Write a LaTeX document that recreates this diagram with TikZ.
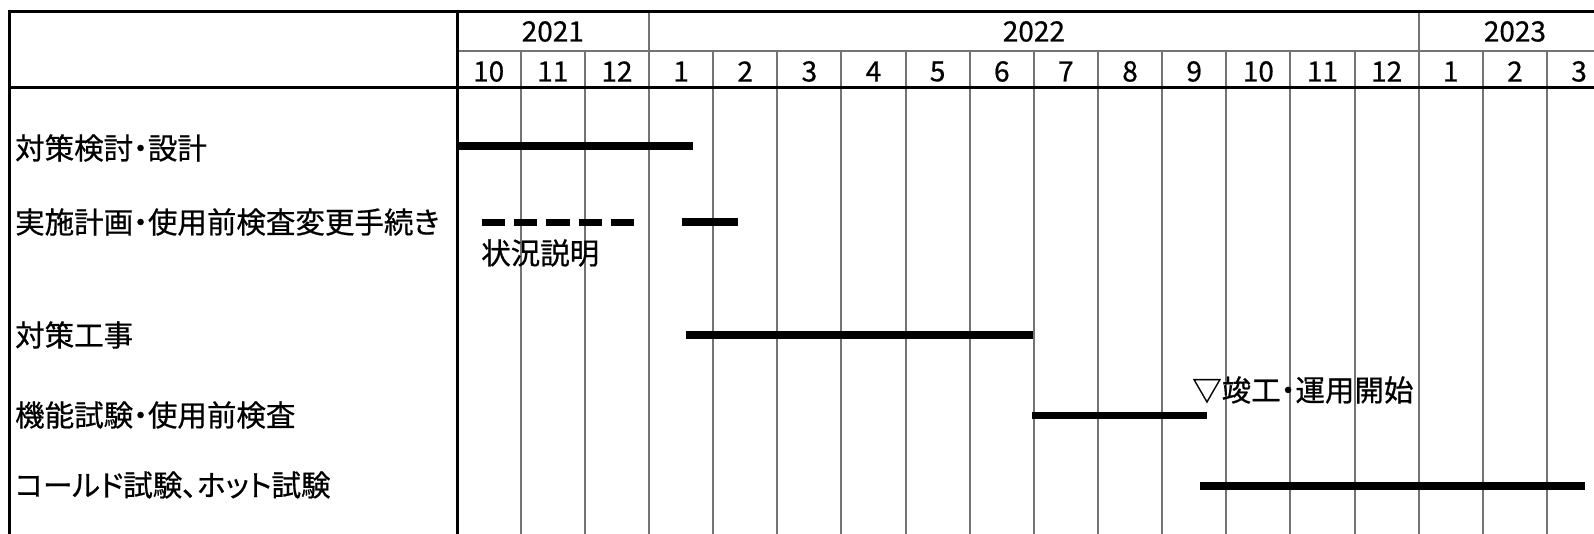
\documentclass[tikz,border=0pt]{standalone}
\usepackage{fontspec}
\setmainfont{Noto Sans CJK JP}[FakeBold=0.6]
\newfontfamily\jpp{Noto Sans CJK JP}[RawFeature=+palt,FakeBold=0.6]
\begin{document}
\begin{tikzpicture}[x=1pt,y=-1pt,
  frame/.style={line width=3pt,black},
  thickv/.style={line width=3.5pt,black},
  grid/.style={line width=2pt,black!55},
  bar/.style={line width=7.5pt,black,line cap=butt},
  dashbar/.style={line width=7.5pt,black,line cap=butt,dash pattern=on 23.3pt off 9pt},
  lbl/.style={anchor=west,inner sep=0pt,font=\jpp\fontsize{29.5}{31}\selectfont},
  hdr/.style={inner sep=0pt,font=\fontsize{28}{30}\selectfont}]
\useasboundingbox (0,0) rectangle (1594,534);
\fill[white] (0,0) rectangle (1594,534);
\clip (0,0) rectangle (1594,534);
\def\xo{456.6}
\def\w{64.14}
% month grid lines
\foreach \k in {1,2,4,5,6,7,8,9,10,11,12,13,14,16,17}
  \draw[grid] ({\xo+\k*\w},51) -- ({\xo+\k*\w},534);
% year separators
\foreach \k in {3,15}
  \draw[grid] ({\xo+\k*\w},12) -- ({\xo+\k*\w},534);
\draw[grid] (\xo,51) -- (1600,51);
% frame
\draw[frame] (9,12) -- (1600,12);
\draw[frame] (9,88) -- (1600,88);
\draw[frame] (9,10.5) -- (9,534);
\draw[thickv] (457.5,10.5) -- (457.5,534);
% years
\node[hdr] (y2021) at ({\xo+1.5*\w},31.5) {2021};
\node[hdr] (y2022) at ({\xo+9*\w},31.5) {2022};
\node[hdr] (y2023) at ({\xo+16.5*\w},31.5) {2023};
% months
\foreach \m [count=\i from 0] in {10,11,12,1,2,3,4,5,6,7,8,9,10,11,12,1,2,3}
  \node[hdr] (m\i) at ({\xo+(\i+0.5)*\w},71.5) {\m};
% row labels
\node[lbl] (r1) at (15,148) {対策検討・設計};
\node[lbl] (r2) at (15,222) {実施計画・使用前検査変更手続き};
\node[lbl] (r2b) at (481,253) {状況説明};
\node[lbl] (r3) at (15,335) {対策工事};
\node[lbl] (r4) at (15,415) {機能試験・使用前検査};
\node[lbl] (r5) at (15,485) {コールド試験、ホット試験};
\node[lbl] (ms) at (1192,390) {▽竣工・運用開始};
% bars
\draw[bar] (457,146) -- (692.5,146);
\draw[dashbar] (481.7,222.3) -- (634,222.3);
\draw[bar] (681.7,222) -- (738.3,222);
\draw[bar] (686,335) -- (1032.7,335);
\draw[bar] (1032.3,415.3) -- (1206.7,415.3);
\draw[bar] (1200,486) -- (1585,486);
\end{tikzpicture}
\end{document}
